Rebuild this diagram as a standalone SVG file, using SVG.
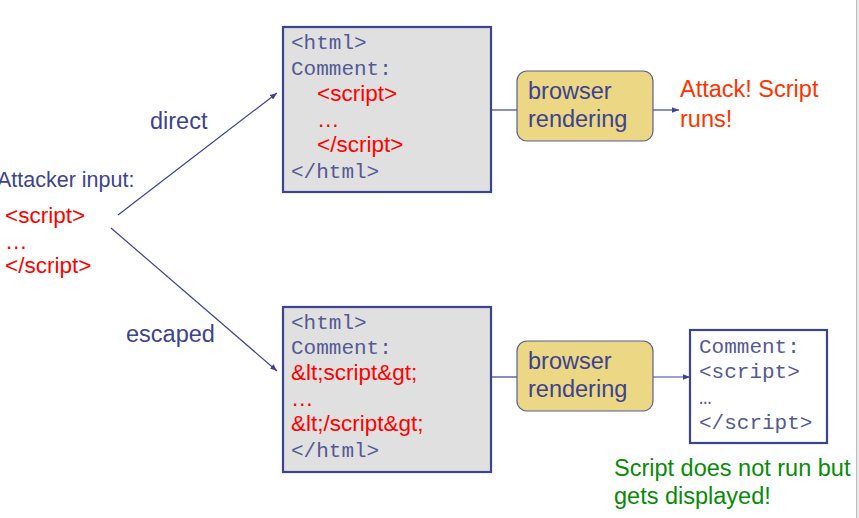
<svg xmlns="http://www.w3.org/2000/svg" width="859" height="518" viewBox="0 0 859 518">
<defs>
<marker id="ah" viewBox="0 0 10 8" refX="10" refY="4" markerWidth="7" markerHeight="5.6" orient="auto" markerUnits="userSpaceOnUse">
<path d="M0,0 L10,4 L0,8 Z" fill="#3d4391"/>
</marker>
<style>
.sans{font-family:"Liberation Sans",Arial,sans-serif;font-size:23.5px}
.code{font-family:"Liberation Sans",Arial,sans-serif;font-size:22.5px}
.mono{font-family:"Liberation Mono","Courier New",monospace;font-size:21px;fill:#545994}
.blue{fill:#3d4391}
.red{fill:#ff0000}
.box{fill:#e0e0e0;stroke:#3d4391;stroke-width:2.2}
.br{fill:#ebd784;stroke:#5a5f90;stroke-width:1.2}
.conn{stroke:#3d4391;stroke-width:1.2;fill:none}
</style>
</defs>
<rect width="859" height="518" fill="#ffffff"/>
<rect x="856" y="0" width="3" height="518" fill="#e8e8e8"/>
<line x1="856.5" y1="0" x2="856.5" y2="518" stroke="#bdbdbd" stroke-width="1"/>

<g id="connectors">
<line class="conn" x1="118" y1="215" x2="277" y2="93" marker-end="url(#ah)"/>
<line class="conn" x1="111" y1="228" x2="277" y2="371" marker-end="url(#ah)"/>
<line class="conn" x1="492" y1="110" x2="517" y2="110"/>
<line class="conn" x1="653" y1="110" x2="679" y2="110" marker-end="url(#ah)"/>
<line class="conn" x1="492" y1="377" x2="517" y2="377"/>
<line class="conn" x1="653" y1="377" x2="690" y2="377" marker-end="url(#ah)"/>
</g>

<g id="attacker-input">
<text class="blue" font-family="Liberation Sans, Arial, sans-serif" font-size="21.5" x="-3" y="187">Attacker input:</text>
<text class="code red" font-size="23" x="5" y="223">&lt;script&gt;</text>
<text class="code red" font-size="23" x="5" y="249">…</text>
<text class="code red" font-size="23" x="5" y="273">&lt;/script&gt;</text>
</g>

<g id="label-direct"><text class="sans blue" x="150" y="129">direct</text></g>
<g id="label-escaped"><text class="sans blue" x="126" y="342">escaped</text></g>

<g id="html-direct">
<rect class="box" x="283" y="27" width="208" height="165"/>
<text class="mono" x="291" y="49">&lt;html&gt;</text>
<text class="mono" x="291" y="75">Comment:</text>
<text class="code red" x="317" y="101">&lt;script&gt;</text>
<text class="code red" x="317" y="127">…</text>
<text class="code red" x="317" y="152">&lt;/script&gt;</text>
<text class="mono" x="291" y="178">&lt;/html&gt;</text>
</g>

<g id="html-escaped">
<rect class="box" x="283" y="307" width="208" height="165"/>
<text class="mono" x="291" y="329">&lt;html&gt;</text>
<text class="mono" x="291" y="354">Comment:</text>
<text class="code red" x="291" y="380">&amp;lt;script&amp;gt;</text>
<text class="code red" x="291" y="406">…</text>
<text class="code red" x="291" y="431">&amp;lt;/script&amp;gt;</text>
<text class="mono" x="291" y="457">&lt;/html&gt;</text>
</g>

<g id="browser-top">
<rect class="br" x="517" y="71" width="136" height="70" rx="10"/>
<text class="sans blue" x="528" y="99">browser</text>
<text class="sans blue" x="528" y="127">rendering</text>
</g>

<g id="browser-bottom">
<rect class="br" x="517" y="341" width="136" height="70" rx="10"/>
<text class="sans blue" x="528" y="369">browser</text>
<text class="sans blue" x="528" y="397">rendering</text>
</g>

<g id="result-attack">
<text class="sans" fill="#ff3300" x="680" y="97">Attack! Script</text>
<text class="sans" fill="#ff3300" x="680" y="127">runs!</text>
</g>

<g id="displayed-output">
<rect x="690" y="330" width="137" height="113" fill="#ffffff" stroke="#3d4391" stroke-width="2.2"/>
<text class="mono" x="699" y="353">Comment:</text>
<text class="mono" x="699" y="378">&lt;script&gt;</text>
<text class="mono" x="699" y="404">…</text>
<text class="mono" x="699" y="429">&lt;/script&gt;</text>
</g>

<g id="result-safe">
<text class="sans" fill="#0a8a0a" x="614" y="476">Script does not run but</text>
<text class="sans" fill="#0a8a0a" x="614" y="504">gets displayed!</text>
</g>
</svg>
